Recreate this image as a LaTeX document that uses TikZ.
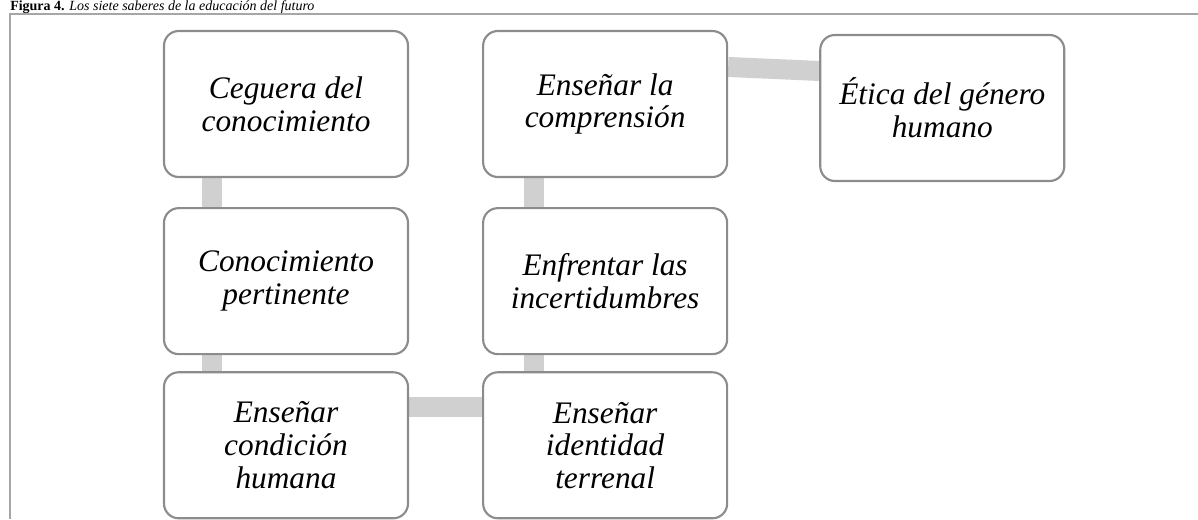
\documentclass[tikz,border=0pt]{standalone}
\usepackage{fontspec}
\setmainfont{Liberation Serif}
\usepackage{xcolor}
\usetikzlibrary{positioning,calc}
\definecolor{boxline}{HTML}{8C8C8C}
\definecolor{linkgray}{HTML}{D0D0D0}
\definecolor{framegray}{HTML}{A6A6A6}
\pgfdeclarelayer{background}
\pgfsetlayers{background,main}

\begin{document}
\begin{tikzpicture}[x=0.75pt,y=-0.75pt,
        saber/.style={draw=boxline,line width=1.6pt,rounded corners=11pt,
            fill=white,minimum width=183pt,minimum height=109.5pt,
            align=center,inner sep=2pt,
            font=\fontsize{23.5}{24.5}\selectfont\itshape},
        link/.style={draw=linkgray,line width=15pt},
        frame/.style={draw=framegray,line width=1.1pt}]
    \useasboundingbox (0,0) rectangle (1198,519);

    % caption above the frame
    \node[anchor=base west,inner sep=0pt,font=\fontsize{10.5}{11}\selectfont] (caption) at (10,10.5)
        {\textbf{Figura 4.} \textit{Los siete saberes de la educación del futuro}};
    \draw[frame] (10,519) -- (10,14) -- (1198,14);

    \node[saber] (ceguera) at (286,104) {Ceguera del\\conocimiento};
    \node[saber] (pertinente) [below=21.75pt of ceguera] {Conocimiento\\pertinente};
    \node[saber] (humana) [below=12pt of pertinente] {Enseñar\\condición\\humana};
    \node[saber] (terrenal) [right=54.75pt of humana] {Enseñar\\identidad\\terrenal};
    \node[saber] (incertidumbres) [above=12pt of terrenal] {Enfrentar las\\incertidumbres};
    \node[saber] (comprension) [above=21.75pt of incertidumbres] {Enseñar la\\comprensión};
    \node[saber] (etica) [right=68.25pt of comprension,yshift=-3pt] {Ética del género\\humano};

    \begin{pgfonlayer}{background}
    \draw[link] ($(ceguera.south west)!.2!(ceguera.south east)$)
        -- ($(pertinente.north west)!.2!(pertinente.north east)$);
    \draw[link] ($(pertinente.south west)!.2!(pertinente.south east)$)
        -- ($(humana.north west)!.2!(humana.north east)$);
    \draw[link] ($(humana.north east)!.24!(humana.south east)$)
        -- ($(terrenal.north west)!.24!(terrenal.south west)$);
    \draw[link] ($(terrenal.north west)!.21!(terrenal.north east)$)
        -- ($(incertidumbres.south west)!.21!(incertidumbres.south east)$);
    \draw[link] ($(incertidumbres.north west)!.21!(incertidumbres.north east)$)
        -- ($(comprension.south west)!.21!(comprension.south east)$);
    \draw[link] ($(comprension.north east)!.25!(comprension.south east)$)
        -- ($(etica.north west)!.25!(etica.south west)$);
    \end{pgfonlayer}
\end{tikzpicture}
\end{document}
